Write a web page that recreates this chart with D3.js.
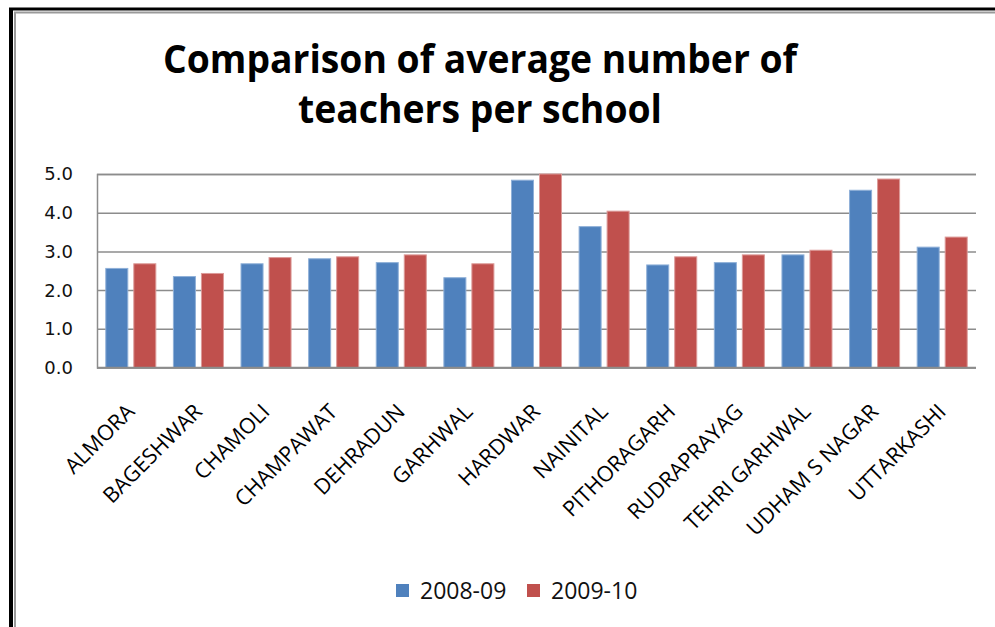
<!DOCTYPE html>
<html>
<head>
<meta charset="utf-8">
<script src="https://cdn.jsdelivr.net/npm/d3@7"></script>
<style>
  html, body { margin: 0; padding: 0; background: #fff; }
  svg { display: block; }
</style>
</head>
<body>
<svg id="chart" width="995" height="627"></svg>
<script>
const categories = ["ALMORA","BAGESHWAR","CHAMOLI","CHAMPAWAT","DEHRADUN","GARHWAL","HARDWAR","NAINITAL","PITHORAGARH","RUDRAPRAYAG","TEHRI GARHWAL","UDHAM S NAGAR","UTTARKASHI"];
const seriesNames = ["2008-09","2009-10"];
const values2008 = [2.56,2.35,2.68,2.81,2.71,2.32,4.84,3.64,2.65,2.71,2.91,4.58,3.11];
const values2009 = [2.68,2.43,2.84,2.86,2.91,2.68,5.00,4.04,2.86,2.91,3.03,4.87,3.37];
const yTicks = [0,1,2,3,4,5];
const titleLines = ["Comparison of average number of","teachers per school"];
const colors = ["#4F81BD","#C0504D"];
const edgeColors = ["#8fb0d8","#dc9a98"];

const svg = d3.select("#chart");

// frame
svg.append("rect").attr("x",0).attr("y",0).attr("width",995).attr("height",627).attr("fill","#fff");
svg.append("line").attr("x1",9).attr("x2",995).attr("y1",9).attr("y2",9).attr("stroke","#000").attr("stroke-width",3);
svg.append("line").attr("x1",14).attr("x2",995).attr("y1",12.5).attr("y2",12.5).attr("stroke","#9a9a9a").attr("stroke-width",2);
svg.append("line").attr("x1",11).attr("x2",11).attr("y1",8).attr("y2",627).attr("stroke","#000").attr("stroke-width",4);
svg.append("line").attr("x1",15).attr("x2",15).attr("y1",12).attr("y2",627).attr("stroke","#9a9a9a").attr("stroke-width",2);

const plot = {left:97, right:976, top:174, bottom:367.5};

const x0 = d3.scaleBand().domain(categories).range([plot.left, plot.right]).paddingInner(0.26).paddingOuter(0.13);
const x1 = d3.scaleBand().domain(seriesNames).range([0, x0.bandwidth()]).paddingInner(0.214);
const y = d3.scaleLinear().domain([0,5]).range([plot.bottom, plot.top]);

// gridlines + axis line
const yAxis = d3.axisLeft(y).tickValues(yTicks).tickSize(-(plot.right-plot.left)).tickFormat("");
const gy = svg.append("g").attr("transform",`translate(${plot.left},0)`).call(yAxis);
gy.select(".domain").attr("stroke","#8c8c8c").attr("stroke-width",1.5);
gy.selectAll(".tick line").attr("stroke","#8c8c8c").attr("stroke-width",1.5);

// y labels
const fmt = d3.format(".1f");
svg.append("g").selectAll("text").data(yTicks).join("text")
  .attr("x", 73).attr("y", d=>y(d)).attr("dy","0.36em")
  .attr("text-anchor","end")
  .attr("font-family","'DejaVu Sans', sans-serif").attr("font-size",18).attr("fill","#111")
  .text(d=>fmt(d));

// bars
const data = categories.map((c,i)=>({cat:c, vals:[values2008[i], values2009[i]]}));
const groups = svg.append("g").selectAll("g").data(data).join("g")
  .attr("transform", d=>`translate(${x0(d.cat)},0)`);
groups.selectAll("rect").data(d=>d.vals.map((v,j)=>({s:seriesNames[j], v, j}))).join("rect")
  .attr("x", d=>x1(d.s))
  .attr("y", d=>y(d.v))
  .attr("width", x1.bandwidth())
  .attr("height", d=>y(0)-y(d.v))
  .attr("fill", d=>colors[d.j])
  .attr("stroke", d=>edgeColors[d.j])
  .attr("stroke-width",1);

// x axis line
svg.append("line").attr("x1",plot.left).attr("x2",plot.right).attr("y1",plot.bottom).attr("y2",plot.bottom).attr("stroke","#8c8c8c").attr("stroke-width",1.5);

// x labels
svg.append("g").selectAll("text").data(categories).join("text")
  .attr("transform", d=>`translate(${x0(d)+x0.bandwidth()/2+5},${413}) rotate(-45)`)
  .attr("text-anchor","end")
  .attr("font-family","'Open Sans', sans-serif")
  .attr("font-size",21.5)
  .attr("fill","#000")
  .text(d=>d);

// title
const titleY = [73,123];
const titleW = [634,364];
svg.append("g").selectAll("text").data(titleLines).join("text")
  .attr("x",480).attr("y",(d,i)=>titleY[i])
  .attr("text-anchor","middle")
  .attr("font-family","'Open Sans', sans-serif")
  .attr("font-weight","bold")
  .attr("font-size",40)
  .attr("fill","#000")
  .attr("textLength",(d,i)=>titleW[i])
  .attr("lengthAdjust","spacingAndGlyphs")
  .text(d=>d);

// legend
const legendX = [396,527];
const lg = svg.append("g").selectAll("g").data(seriesNames).join("g")
  .attr("transform",(d,i)=>`translate(${legendX[i]},584)`);
lg.append("rect").attr("width",13).attr("height",13).attr("fill",(d,i)=>colors[i]);
lg.append("text").attr("x",24).attr("y",6.5).attr("dy","0.36em")
  .attr("font-family","'Open Sans', sans-serif").attr("font-size",23).attr("fill","#111")
  .text(d=>d);
</script>
</body>
</html>
